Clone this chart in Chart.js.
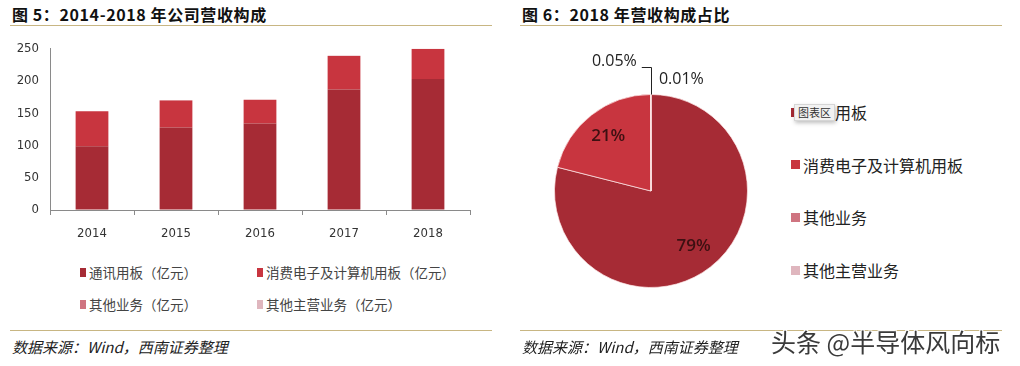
<!DOCTYPE html>
<html>
<head>
<meta charset="utf-8">
<script src="https://cdn.jsdelivr.net/npm/chart.js@4/dist/chart.umd.min.js"></script>
<style>
  html, body { margin: 0; padding: 0; background: #fff; }
  body { width: 1020px; height: 366px; position: relative; overflow: hidden; font-family: "Noto Sans CJK SC", "Noto Sans", sans-serif; }
  .title { position: absolute; top: 2px; font-size: 16px; font-weight: bold; letter-spacing: 0.6px; color: #111; white-space: nowrap; }
  .rule { position: absolute; height: 1px; background: #c8b683; }
  .source { position: absolute; top: 336px; font-size: 15px; font-style: italic; color: #222; white-space: nowrap; }
  .box { position: absolute; }
  .bar-legend { position: absolute; left: 80px; top: 262px; width: 400px; }
  .bar-legend .item { position: absolute; display: flex; align-items: center; font-size: 13.5px; color: #444; white-space: nowrap; }
  .bar-legend .mk { width: 6px; height: 9px; margin-right: 3px; }
  .pie-legend { position: absolute; left: 791px; top: 0; }
  .pie-legend .item { position: absolute; display: flex; align-items: center; font-size: 16px; color: #222; white-space: nowrap; }
  .pie-legend .mk { width: 9px; height: 9px; margin-right: 3px; }
  .tip { position: absolute; left: 794px; top: 104px; padding: 0 3px; height: 15px; line-height: 15px; font-size: 11px; color: #333;
         background: #f2f2f2; border: 1px solid #d6d6d6; box-shadow: 1px 2px 4px rgba(0,0,0,0.25); }
  .mark { position: absolute; left: 771px; top: 323px; font-size: 25px; color: #3a3a3a; white-space: nowrap;
          text-shadow: 1px 1px 0 #fff, -1px -1px 0 #fff, 1px -1px 0 #fff, -1px 1px 0 #fff; }
</style>
</head>
<body>
<div class="title" style="left:12px;">图 5：2014-2018 年公司营收构成</div>
<div class="rule" style="left:10px; width:482px; top:25px;"></div>
<div class="box" style="left:0; top:30px; width:490px; height:226px;"><canvas id="bar"></canvas></div>
<div class="bar-legend" id="bar-legend"></div>
<div class="rule" style="left:10px; width:482px; top:330px;"></div>
<div class="source" style="left:12px;">数据来源：Wind，西南证券整理</div>

<div class="title" style="left:522px;">图 6：2018 年营收构成占比</div>
<div class="rule" style="left:520px; width:482px; top:25px;"></div>
<div class="box" style="left:520px; top:40px; width:262px; height:302px;"><canvas id="pie"></canvas></div>
<div class="pie-legend" id="pie-legend"></div>
<div class="tip">图表区</div>
<div class="rule" style="left:520px; width:482px; top:330px;"></div>
<div class="source" style="left:522px;">数据来源：Wind，西南证券整理</div>
<div class="mark">头条 @半导体风向标</div>

<script>
const YEARS = ['2014', '2015', '2016', '2017', '2018'];
const COMM_BOARD = [99, 128, 134, 187, 203];
const CONSUMER_BOARD = [54, 42, 37, 52, 47];
const OTHER_BIZ = [0.1, 0.1, 0.1, 0.1, 0.12];
const OTHER_MAIN = [0.02, 0.02, 0.02, 0.02, 0.03];
const BAR_NAMES = ['通讯用板（亿元）', '消费电子及计算机用板（亿元）', '其他业务（亿元）', '其他主营业务（亿元）'];
const Y_MAX = 250;
const Y_STEP = 50;

const PIE_NAMES = ['通讯用板', '消费电子及计算机用板', '其他业务', '其他主营业务'];
const PIE_SHARES = [79, 21, 0.05, 0.01];

const COLORS = ['#a62b35', '#c8353f', '#cf7480', '#dfb6be'];
const AXIS_FONT = '"Liberation Sans Narrow", "DejaVu Sans Condensed", sans-serif';

// 柱状图：四个系列堆叠，后两个数值很小，图上几乎看不到
new Chart(document.getElementById('bar'), {
  type: 'bar',
  data: {
    labels: YEARS,
    datasets: [COMM_BOARD, CONSUMER_BOARD, OTHER_BIZ, OTHER_MAIN].map((d, i) => ({
      label: BAR_NAMES[i],
      data: d,
      backgroundColor: COLORS[i],
      categoryPercentage: 1,
      barPercentage: 0.39,
    })),
  },
  options: {
    animation: false,
    responsive: true,
    maintainAspectRatio: false,
    layout: { padding: { top: 9, right: 20, left: 0, bottom: 0 } },
    plugins: { legend: { display: false }, tooltip: { enabled: false } },
    scales: {
      x: {
        stacked: true,
        afterFit: (s) => { s.height = 46; },
        grid: { offset: true, drawOnChartArea: false, tickLength: 5, color: '#8a8a8a' },
        border: { color: '#8a8a8a' },
        ticks: { color: '#333', padding: 11, font: { family: AXIS_FONT, size: 13 } },
      },
      y: {
        stacked: true,
        min: 0,
        max: Y_MAX,
        afterFit: (s) => { s.width = 50; },
        grid: { drawOnChartArea: false, drawTicks: false },
        border: { color: '#8a8a8a' },
        ticks: { stepSize: Y_STEP, color: '#333', padding: 11, font: { family: AXIS_FONT, size: 13 } },
      },
    },
  },
});

const barLegend = document.getElementById('bar-legend');
BAR_NAMES.forEach((name, i) => {
  const el = document.createElement('div');
  el.className = 'item';
  el.style.left = (i % 2 ? 177 : 0) + 'px';
  el.style.top = (i < 2 ? 0 : 32) + 'px';
  el.innerHTML = `<span class="mk" style="background:${COLORS[i]}"></span>${name}`;
  barLegend.appendChild(el);
});

const pieLegend = document.getElementById('pie-legend');
PIE_NAMES.forEach((name, i) => {
  const el = document.createElement('div');
  el.className = 'item';
  el.style.left = '0px';
  el.style.top = (100 + i * 52.7) + 'px';
  el.innerHTML = `<span class="mk" style="background:${COLORS[i]}"></span>${name}`;
  pieLegend.appendChild(el);
});

function fmtShare(v) {
  return v >= 1 ? Math.round(v) + '%' : v.toFixed(2) + '%';
}

// 饼图标签：大块写在扇区内，两个极小的扇区用引线放在外面
const pieLabels = {
  id: 'pieLabels',
  afterDatasetsDraw(chart) {
    const ctx = chart.ctx;
    const arcs = chart.getDatasetMeta(0).data;
    ctx.save();
    arcs.forEach((arc, i) => {
      const p = arc.getProps(['x', 'y', 'startAngle', 'endAngle', 'outerRadius'], true);
      const mid = (p.startAngle + p.endAngle) / 2;
      const text = fmtShare(PIE_SHARES[i]);
      if (PIE_SHARES[i] >= 1) {
        const r = p.outerRadius * 0.72;
        ctx.font = '600 17px "Open Sans", sans-serif';
        ctx.fillStyle = '#3d1012';
        ctx.textAlign = 'center';
        ctx.textBaseline = 'middle';
        ctx.fillText(text, p.x + r * Math.cos(mid), p.y + r * Math.sin(mid));
        return;
      }
      const ex = p.x + p.outerRadius * Math.cos(mid);
      const ey = p.y + p.outerRadius * Math.sin(mid);
      ctx.font = '16px "Open Sans", sans-serif';
      ctx.fillStyle = '#222';
      ctx.textBaseline = 'middle';
      if (i === 2) {
        ctx.strokeStyle = '#222';
        ctx.lineWidth = 1;
        ctx.beginPath();
        ctx.moveTo(Math.round(ex) + 0.5, ey);
        ctx.lineTo(Math.round(ex) + 0.5, ey - 27);
        ctx.lineTo(ex - 9, ey - 27);
        ctx.stroke();
        ctx.textAlign = 'right';
        ctx.fillText(text, ex - 14, ey - 33);
      } else {
        ctx.textAlign = 'left';
        ctx.fillText(text, ex + 8, ey - 15);
      }
    });
    ctx.restore();
  },
};

new Chart(document.getElementById('pie'), {
  type: 'pie',
  data: {
    labels: PIE_NAMES,
    datasets: [{
      data: PIE_SHARES,
      backgroundColor: COLORS,
      borderColor: 'rgba(255,235,235,0.7)',
      borderWidth: 1,
    }],
  },
  options: {
    animation: false,
    responsive: true,
    maintainAspectRatio: false,
    layout: { padding: 34 },
    plugins: { legend: { display: false }, tooltip: { enabled: false } },
  },
  plugins: [pieLabels],
});
</script>
</body>
</html>
